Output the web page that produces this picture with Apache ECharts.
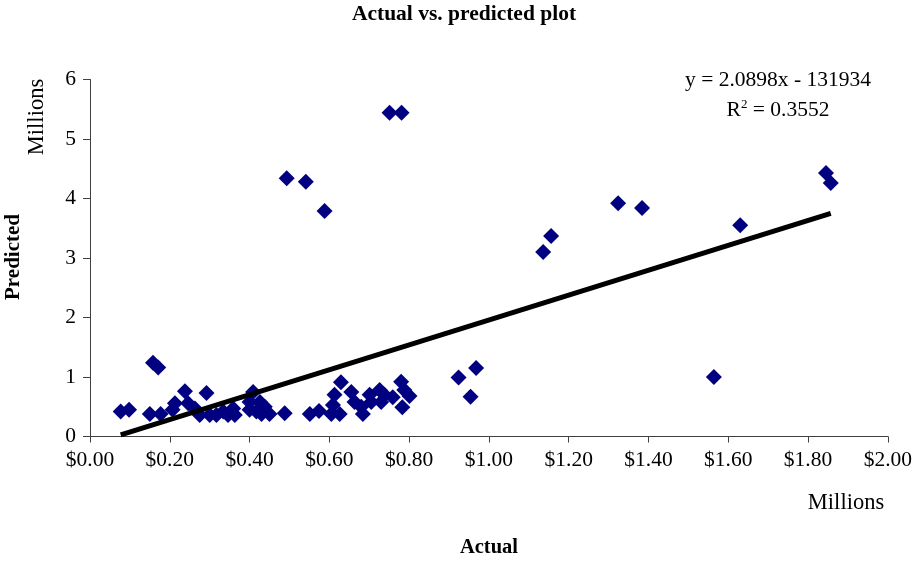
<!DOCTYPE html>
<html>
<head>
<meta charset="utf-8">
<script src="https://cdn.jsdelivr.net/npm/echarts@6/dist/echarts.min.js"></script>
<style>
  html, body { margin: 0; padding: 0; background: #fff; }
  #chart { width: 915px; height: 561px; }
</style>
</head>
<body>
<div id="chart"></div>
<script>
// Actual values (millions of dollars)
const actual = [
  0.077, 0.098, 0.158, 0.171, 0.150, 0.177, 0.207, 0.213, 0.238, 0.246,
  0.263, 0.275, 0.292, 0.300, 0.317, 0.334, 0.346, 0.359, 0.363, 0.400,
  0.400, 0.409, 0.417, 0.426, 0.430, 0.438, 0.450, 0.488, 0.551, 0.574,
  0.605, 0.609, 0.613, 0.626, 0.629, 0.655, 0.663, 0.680, 0.684, 0.701,
  0.705, 0.726, 0.730, 0.738, 0.759, 0.780, 0.783, 0.788, 0.801, 0.924,
  0.954, 0.968, 0.493, 0.541, 0.588, 0.751, 0.781, 1.136, 1.156, 1.324,
  1.384, 1.564, 1.630, 1.845, 1.857
];
// Predicted values (millions)
const predicted = [
  0.42, 0.45, 1.24, 1.16, 0.38, 0.38, 0.45, 0.56, 0.76, 0.56,
  0.47, 0.36, 0.73, 0.36, 0.36, 0.42, 0.36, 0.47, 0.36, 0.45,
  0.58, 0.75, 0.42, 0.58, 0.38, 0.50, 0.38, 0.39, 0.38, 0.43,
  0.38, 0.53, 0.70, 0.38, 0.91, 0.75, 0.58, 0.50, 0.38, 0.70,
  0.58, 0.78, 0.58, 0.70, 0.66, 0.92, 0.49, 0.78, 0.68, 0.99,
  0.67, 1.15, 4.34, 4.28, 3.79, 5.44, 5.44, 3.10, 3.37, 3.92,
  3.84, 1.00, 3.55, 4.43, 4.26
];
// Linear trend: y = 2.0898x - 131934 (raw dollars)
const trendSlope = 2.0898;
const trendIntercept = -131934;
const trendText = 'y = 2.0898x - 131934';
const r2Text = '0.3552';

const xTicks = [0, 0.2, 0.4, 0.6, 0.8, 1.0, 1.2, 1.4, 1.6, 1.8, 2.0];
const yTicks = [0, 1, 2, 3, 4, 5, 6];

const points = actual.map((a, i) => [a, predicted[i]]);
const xMin = Math.min(...actual);
const xMax = Math.max(...actual);
const trendY = x => trendSlope * x + trendIntercept / 1e6;
const trendLine = [[xMin, trendY(xMin)], [xMax, trendY(xMax)]];

const FONT = '"Liberation Serif", "Times New Roman", serif';

const chart = echarts.init(document.getElementById('chart'), null, { renderer: 'canvas' });
chart.setOption({
  animation: false,
  backgroundColor: '#ffffff',
  textStyle: { fontFamily: FONT },
  grid: { left: 90, right: 26, top: 79.5, bottom: 124.5, containLabel: false },
  xAxis: {
    type: 'value',
    min: xTicks[0],
    max: xTicks[xTicks.length - 1],
    interval: 0.2,
    splitLine: { show: false },
    axisLine: { lineStyle: { color: '#404040', width: 1 } },
    axisTick: { inside: false, length: 6, lineStyle: { color: '#404040' } },
    axisLabel: {
      margin: 13, fontSize: 21.5, color: '#000', fontFamily: FONT,
      formatter: v => '$' + v.toFixed(2)
    }
  },
  yAxis: {
    type: 'value',
    min: yTicks[0],
    max: yTicks[yTicks.length - 1],
    interval: 1,
    splitLine: { show: false },
    axisLine: { show: true, lineStyle: { color: '#404040', width: 1 } },
    axisTick: { show: true, inside: false, length: 7, lineStyle: { color: '#404040' } },
    axisLabel: { margin: 14, fontSize: 21.5, color: '#000', fontFamily: FONT }
  },
  series: [
    {
      type: 'scatter',
      data: points,
      symbol: 'diamond',
      symbolSize: 16,
      itemStyle: { color: '#000080', opacity: 1 },
      z: 2
    },
    {
      type: 'line',
      data: trendLine,
      symbol: 'none',
      lineStyle: { color: '#000', width: 5 },
      z: 3
    }
  ],
  graphic: [
    {
      type: 'text', x: 464, y: 14,
      style: { text: 'Actual vs. predicted plot', font: 'bold 21.5px ' + FONT, fill: '#000', align: 'center', verticalAlign: 'middle' }
    },
    {
      type: 'text', x: 14, y: 257, rotation: Math.PI / 2,
      style: { text: 'Predicted', font: 'bold 21px ' + FONT, fill: '#000', align: 'center', verticalAlign: 'middle' }
    },
    {
      type: 'text', x: 37, y: 117, rotation: Math.PI / 2,
      style: { text: 'Millions', font: '22.5px ' + FONT, fill: '#000', align: 'center', verticalAlign: 'middle' }
    },
    {
      type: 'text', x: 846, y: 503,
      style: { text: 'Millions', font: '22.5px ' + FONT, fill: '#000', align: 'center', verticalAlign: 'middle' }
    },
    {
      type: 'text', x: 489, y: 548,
      style: { text: 'Actual', font: 'bold 20.5px ' + FONT, fill: '#000', align: 'center', verticalAlign: 'middle' }
    },
    {
      type: 'text', x: 778, y: 80,
      style: { text: trendText, font: '21.5px ' + FONT, fill: '#000', align: 'center', verticalAlign: 'middle' }
    },
    {
      type: 'text', x: 778, y: 110,
      style: {
        text: '{r|R}{sup|2}{r| = ' + r2Text + '}',
        align: 'center', verticalAlign: 'middle',
        rich: {
          r: { font: '21.5px ' + FONT, fill: '#000', verticalAlign: 'bottom' },
          sup: { font: '13px ' + FONT, fill: '#000', verticalAlign: 'top', padding: [0, 0, 10, 0] }
        }
      }
    }
  ]
});
</script>
</body>
</html>
